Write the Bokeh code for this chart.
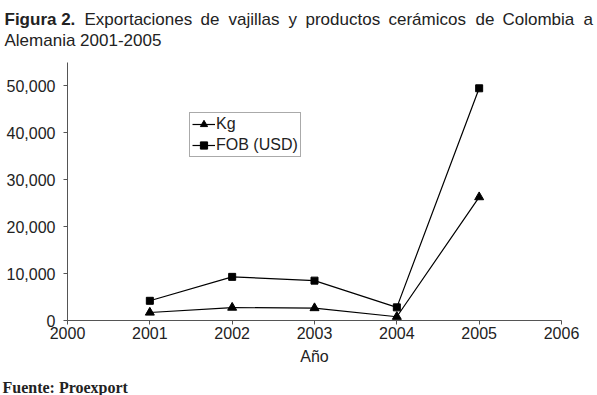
from bokeh.plotting import figure
from bokeh.models import Range1d, Legend, LegendItem, FixedTicker, NumeralTickFormatter
from bokeh.layouts import column
from bokeh.core.properties import value
from bokeh.embed import file_html
from bokeh.resources import INLINE

years = [2001, 2002, 2003, 2004, 2005]
kg = [1700, 2750, 2650, 800, 26300]
fob = [4200, 9300, 8500, 2800, 49500]
x_ticks = [2000, 2001, 2002, 2003, 2004, 2005, 2006]
y_ticks = [0, 10000, 20000, 30000, 40000, 50000]
title_bold = "Figura 2."
title_words = ["Exportaciones", "de", "vajillas", "y", "productos", "cerámicos", "de", "Colombia", "a"]
title_line2 = "Alemania 2001-2005"
source_text = "Fuente: Proexport"

# horizontal start of each justified title word (layout only)
word_x = [84, 200, 228, 288, 305, 388, 475, 502, 583]

FONT = "Liberation Sans"
TXT = "#222222"
W = 597


def no_align(f):
    try:
        f.frame_align = False
    except AttributeError:
        pass


def text_fig(h):
    f = figure(width=W, height=h, output_backend="svg", toolbar_location=None,
               x_range=Range1d(0, W), y_range=Range1d(h, 0),
               x_axis_type=None, y_axis_type=None, min_border=0)
    f.outline_line_color = None
    f.xgrid.visible = False
    f.ygrid.visible = False
    no_align(f)
    return f


# title panel
t = text_fig(50)
t.text(x=[4], y=[19], text=[title_bold], text_font=value(FONT), text_font_style="bold",
       text_font_size="17px", text_color=TXT, text_baseline="alphabetic")
t.text(x=word_x, y=[19] * len(word_x), text=title_words, text_font=value(FONT),
       text_font_size="17px", text_color=TXT, text_baseline="alphabetic")
t.text(x=[4], y=[40], text=[title_line2], text_font=value(FONT),
       text_font_size="17px", text_color=TXT, text_baseline="alphabetic")

# main chart
p = figure(width=W, height=320, output_backend="svg", toolbar_location=None,
           x_range=Range1d(2000, 2006), y_range=Range1d(0, 55000),
           min_border_left=67, min_border_right=36, min_border_top=12, min_border_bottom=50)
p.outline_line_color = None
p.xgrid.visible = False
p.ygrid.visible = False
no_align(p)

for ax in (p.xaxis[0], p.yaxis[0]):
    ax.axis_line_color = "#555555"
    ax.major_tick_line_color = "#555555"
    ax.minor_tick_line_color = None
    ax.major_tick_in = 0
    ax.major_tick_out = 4
    ax.major_label_text_font = FONT
    ax.major_label_text_font_size = "16px"
    ax.major_label_text_color = TXT

p.xaxis.ticker = FixedTicker(ticks=x_ticks)
p.xaxis.major_label_standoff = 2
p.xaxis.axis_label = "Año"
p.xaxis.axis_label_text_font = FONT
p.xaxis.axis_label_text_font_style = "normal"
p.xaxis.axis_label_text_font_size = "16px"
p.xaxis.axis_label_text_color = TXT
p.xaxis.axis_label_standoff = 6

p.yaxis.ticker = FixedTicker(ticks=y_ticks)
p.yaxis.formatter = NumeralTickFormatter(format="0,0")
p.yaxis.major_label_standoff = 8

l1 = p.line(years, kg, line_color="black", line_width=1.2)
s1 = p.scatter(years, kg, marker="triangle", size=9, color="black")
l2 = p.line(years, fob, line_color="black", line_width=1.2)
s2 = p.scatter(years, fob, marker="square", size=7, color="black")

legend = Legend(items=[LegendItem(label="Kg", renderers=[l1, s1]),
                       LegendItem(label="FOB (USD)", renderers=[l2, s2])],
                location=(122, 163), orientation="vertical",
                border_line_color="#555555", border_line_width=1,
                background_fill_color="white", background_fill_alpha=1,
                padding=2, spacing=3, margin=0,
                label_text_font=FONT, label_text_font_size="16px", label_text_color=TXT,
                glyph_width=23, glyph_height=18, label_height=18, label_standoff=1)
p.add_layout(legend, "center")

# source panel
s = text_fig(25)
s.text(x=[2], y=[17], text=[source_text], text_font=value("Liberation Serif"),
       text_font_style="bold", text_font_size="16px", text_color=TXT, text_baseline="alphabetic")

layout = column(t, p, s, spacing=0)
open("out.html", "w").write(file_html(layout, INLINE))
